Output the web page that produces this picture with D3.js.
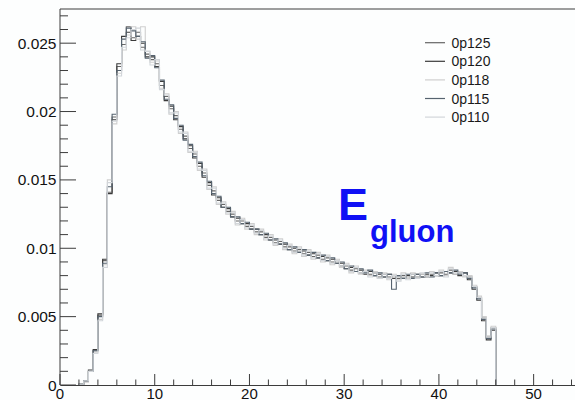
<!DOCTYPE html>
<html>
<head>
<meta charset="utf-8">
<script src="https://cdn.jsdelivr.net/npm/d3@7"></script>
<style>
  html, body { margin: 0; padding: 0; background: #fdfefe; }
  svg { display: block; }
  text { font-family: "Liberation Sans", Arial, Helvetica, sans-serif; }
</style>
</head>
<body>
<svg id="chart" width="575" height="400"></svg>
<script>
// Histogram binning: 88 bins of width 0.5 starting at 2
const binStart = 2;
const binWidth = 0.5;

// Series names (legend order) and their normalized bin contents
const seriesNames = ["0p125", "0p120", "0p118", "0p115", "0p110"];

const s125 = [0.00005,0.0003,0.0010,0.0025,0.0051,0.0091,0.0141,0.0196,0.0233,0.0249,
  0.0262,0.0254,0.0258,0.0247,0.0242,0.0238,0.0235,0.0219,0.0211,0.0202,
  0.0197,0.0187,0.0182,0.0173,0.0169,0.0160,0.0155,0.0146,0.0142,0.0135,
  0.0132,0.0127,0.0125,0.0120,0.0120,0.0116,0.0116,0.0112,0.0112,0.0108,
  0.0108,0.0104,0.0105,0.0101,0.0101,0.0098,0.0099,0.0096,0.0097,0.0094,
  0.0095,0.0092,0.0093,0.0090,0.0091,0.0087,0.0087,0.0084,0.0085,0.0082,
  0.0083,0.0081,0.0082,0.0079,0.0081,0.0079,0.0080,0.0078,0.0080,0.0078,
  0.0081,0.0079,0.0081,0.0079,0.0081,0.0080,0.0082,0.0081,0.0084,0.0081,
  0.0082,0.0080,0.0079,0.0072,0.0064,0.0049,0.0035,0.0042];

const s120 = [0.00005,0.0003,0.0011,0.0026,0.0052,0.0092,0.0140,0.0194,0.0235,0.0255,
  0.0258,0.0252,0.0255,0.0250,0.0240,0.0240,0.0233,0.0222,0.0208,0.0204,
  0.0194,0.0189,0.0180,0.0175,0.0166,0.0162,0.0152,0.0148,0.0139,0.0137,
  0.0130,0.0129,0.0123,0.0122,0.0118,0.0118,0.0114,0.0114,0.0110,0.0110,
  0.0106,0.0106,0.0103,0.0103,0.0099,0.0100,0.0097,0.0098,0.0095,0.0096,
  0.0093,0.0094,0.0091,0.0092,0.0089,0.0089,0.0085,0.0086,0.0083,0.0084,
  0.0081,0.0083,0.0080,0.0081,0.0079,0.0081,0.0078,0.0080,0.0078,0.0080,
  0.0079,0.0081,0.0079,0.0081,0.0080,0.0082,0.0080,0.0083,0.0082,0.0083,
  0.0080,0.0082,0.0077,0.0070,0.0062,0.0047,0.0033,0.0040];

const s118 = [0.00005,0.0002,0.0010,0.0024,0.0048,0.0088,0.0150,0.0191,0.0228,0.0245,
  0.0256,0.0262,0.0253,0.0262,0.0244,0.0236,0.0237,0.0217,0.0213,0.0198,
  0.0200,0.0184,0.0185,0.0170,0.0171,0.0157,0.0158,0.0143,0.0145,0.0132,
  0.0134,0.0125,0.0127,0.0117,0.0122,0.0114,0.0118,0.0110,0.0114,0.0106,
  0.0110,0.0102,0.0107,0.0099,0.0103,0.0096,0.0101,0.0094,0.0099,0.0092,
  0.0097,0.0090,0.0095,0.0088,0.0092,0.0086,0.0089,0.0082,0.0087,0.0081,
  0.0084,0.0080,0.0083,0.0078,0.0082,0.0077,0.0081,0.0077,0.0082,0.0078,
  0.0082,0.0079,0.0081,0.0080,0.0083,0.0080,0.0084,0.0080,0.0086,0.0081,
  0.0083,0.0079,0.0080,0.0073,0.0065,0.0050,0.0036,0.0043];

const s115 = [0.00005,0.0003,0.0010,0.0025,0.0050,0.0089,0.0145,0.0198,0.0230,0.0253,
  0.0261,0.0259,0.0255,0.0251,0.0239,0.0241,0.0232,0.0223,0.0209,0.0205,
  0.0195,0.0190,0.0179,0.0176,0.0167,0.0163,0.0153,0.0149,0.0140,0.0138,
  0.0130,0.0130,0.0123,0.0123,0.0118,0.0119,0.0114,0.0114,0.0110,0.0111,
  0.0106,0.0107,0.0103,0.0104,0.0099,0.0101,0.0097,0.0099,0.0095,0.0097,
  0.0093,0.0095,0.0091,0.0093,0.0089,0.0090,0.0085,0.0087,0.0083,0.0085,
  0.0082,0.0084,0.0080,0.0082,0.0079,0.0081,0.0070,0.0080,0.0078,0.0081,
  0.0078,0.0081,0.0079,0.0082,0.0079,0.0082,0.0080,0.0083,0.0082,0.0084,
  0.0081,0.0082,0.0078,0.0071,0.0063,0.0048,0.0034,0.0041];

const s110 = [0.00005,0.0003,0.0010,0.0023,0.0047,0.0086,0.0148,0.0193,0.0226,0.0247,
  0.0254,0.0260,0.0261,0.0245,0.0244,0.0234,0.0238,0.0216,0.0212,0.0199,
  0.0199,0.0185,0.0184,0.0171,0.0170,0.0158,0.0157,0.0144,0.0144,0.0133,
  0.0133,0.0126,0.0126,0.0118,0.0121,0.0115,0.0117,0.0111,0.0113,0.0107,
  0.0109,0.0103,0.0106,0.0100,0.0102,0.0097,0.0100,0.0095,0.0098,0.0093,
  0.0096,0.0091,0.0094,0.0089,0.0091,0.0087,0.0088,0.0083,0.0086,0.0082,
  0.0083,0.0079,0.0082,0.0078,0.0081,0.0078,0.0080,0.0076,0.0081,0.0077,
  0.0081,0.0078,0.0082,0.0079,0.0082,0.0080,0.0083,0.0079,0.0085,0.0082,
  0.0082,0.0080,0.0079,0.0072,0.0064,0.0049,0.0035,0.0042];

const seriesValues = [s125, s120, s118, s115, s110];
const seriesColors = ["#666666", "#3a3a3a", "#cfcfcf", "#56636f", "#d2d6da"];

// Axis tick labels
const xTickValues = [0, 10, 20, 30, 40, 50];
const yTickValues = [0, 0.005, 0.01, 0.015, 0.02, 0.025];
const yTickLabels = ["0", "0.005", "0.01", "0.015", "0.02", "0.025"];

const svg = d3.select("#chart");
const padL = 60, padT = 9, baseY = 385, padR = 581;

const x = d3.scaleLinear().domain([0, 55]).range([padL, padR]);
const y = d3.scaleLinear().domain([0, 0.0275]).range([baseY, padT]);

const axisColor = "#3c3c3c";

// Frame top edge
svg.append("line").attr("x1", padL).attr("x2", padR).attr("y1", padT).attr("y2", padT)
  .attr("stroke", axisColor).attr("stroke-width", 1);

// Histograms drawn as step outlines
const stepLine = d3.line()
  .x(d => x(d[0]))
  .y(d => y(d[1]))
  .curve(d3.curveStepAfter);

seriesValues.forEach((vals, k) => {
  const pts = [[binStart, 0]];
  vals.forEach((v, i) => pts.push([binStart + i * binWidth, v]));
  const end = binStart + vals.length * binWidth;
  pts.push([end, vals[vals.length - 1]]);
  pts.push([end, 0]);
  svg.append("path")
    .attr("d", stepLine(pts))
    .attr("fill", "none")
    .attr("stroke", seriesColors[k])
    .attr("stroke-width", 1.1);
});

// X axis
const xAxis = svg.append("g").attr("transform", `translate(0,${baseY})`);
xAxis.call(d3.axisBottom(x).tickValues(xTickValues).tickSize(0).tickFormat(""));
xAxis.select(".domain").attr("stroke", axisColor);
const xMinor = d3.range(0, 56, 2);
xAxis.selectAll("line.minor").data(xMinor).enter().append("line")
  .attr("class", "minor")
  .attr("x1", d => x(d)).attr("x2", d => x(d))
  .attr("y1", 0).attr("y2", d => (d % 10 === 0 ? -11 : -5.5))
  .attr("stroke", axisColor).attr("stroke-width", 1);
xAxis.selectAll("text.lbl").data(xTickValues).enter().append("text")
  .attr("class", "lbl")
  .attr("x", d => x(d)).attr("y", 14)
  .attr("text-anchor", "middle")
  .attr("font-size", 15).attr("fill", "#111")
  .text(d => d);

// Y axis
const yAxis = svg.append("g").attr("transform", `translate(${padL},0)`);
yAxis.call(d3.axisLeft(y).tickValues(yTickValues).tickSize(0).tickFormat(""));
yAxis.select(".domain").attr("stroke", axisColor).attr("d", `M0,${baseY}V${padT}`);
const yMinor = d3.range(0, 28).map(i => i * 0.001);
yAxis.selectAll("line.minor").data(yMinor).enter().append("line")
  .attr("class", "minor")
  .attr("x1", 0).attr("x2", (d, i) => (i % 5 === 0 ? 16 : 8))
  .attr("y1", d => y(d)).attr("y2", d => y(d))
  .attr("stroke", axisColor).attr("stroke-width", 1);
yAxis.selectAll("text.lbl").data(yTickValues).enter().append("text")
  .attr("class", "lbl")
  .attr("x", -3.5).attr("y", d => y(d))
  .attr("dy", "0.36em")
  .attr("text-anchor", "end")
  .attr("font-size", 15.5).attr("fill", "#111")
  .text((d, i) => yTickLabels[i]);

// Legend
const legend = svg.append("g");
seriesNames.forEach((name, k) => {
  const ly = 42.7 + k * 18.6;
  legend.append("line")
    .attr("x1", 425).attr("x2", 445).attr("y1", ly).attr("y2", ly)
    .attr("stroke", seriesColors[k]).attr("stroke-width", 1.2);
  legend.append("text")
    .attr("x", 451.5).attr("y", ly).attr("dy", "0.36em")
    .attr("font-size", 14).attr("fill", "#1a1a1a")
    .text(name);
});

// Variable label
const lab = svg.append("text").attr("fill", "#1010f5").attr("font-weight", "bold");
lab.append("tspan").attr("x", 338).attr("y", 220).attr("font-size", 45).text("E");
lab.append("tspan").attr("x", 370).attr("y", 242).attr("font-size", 31).text("gluon");
</script>
</body>
</html>
